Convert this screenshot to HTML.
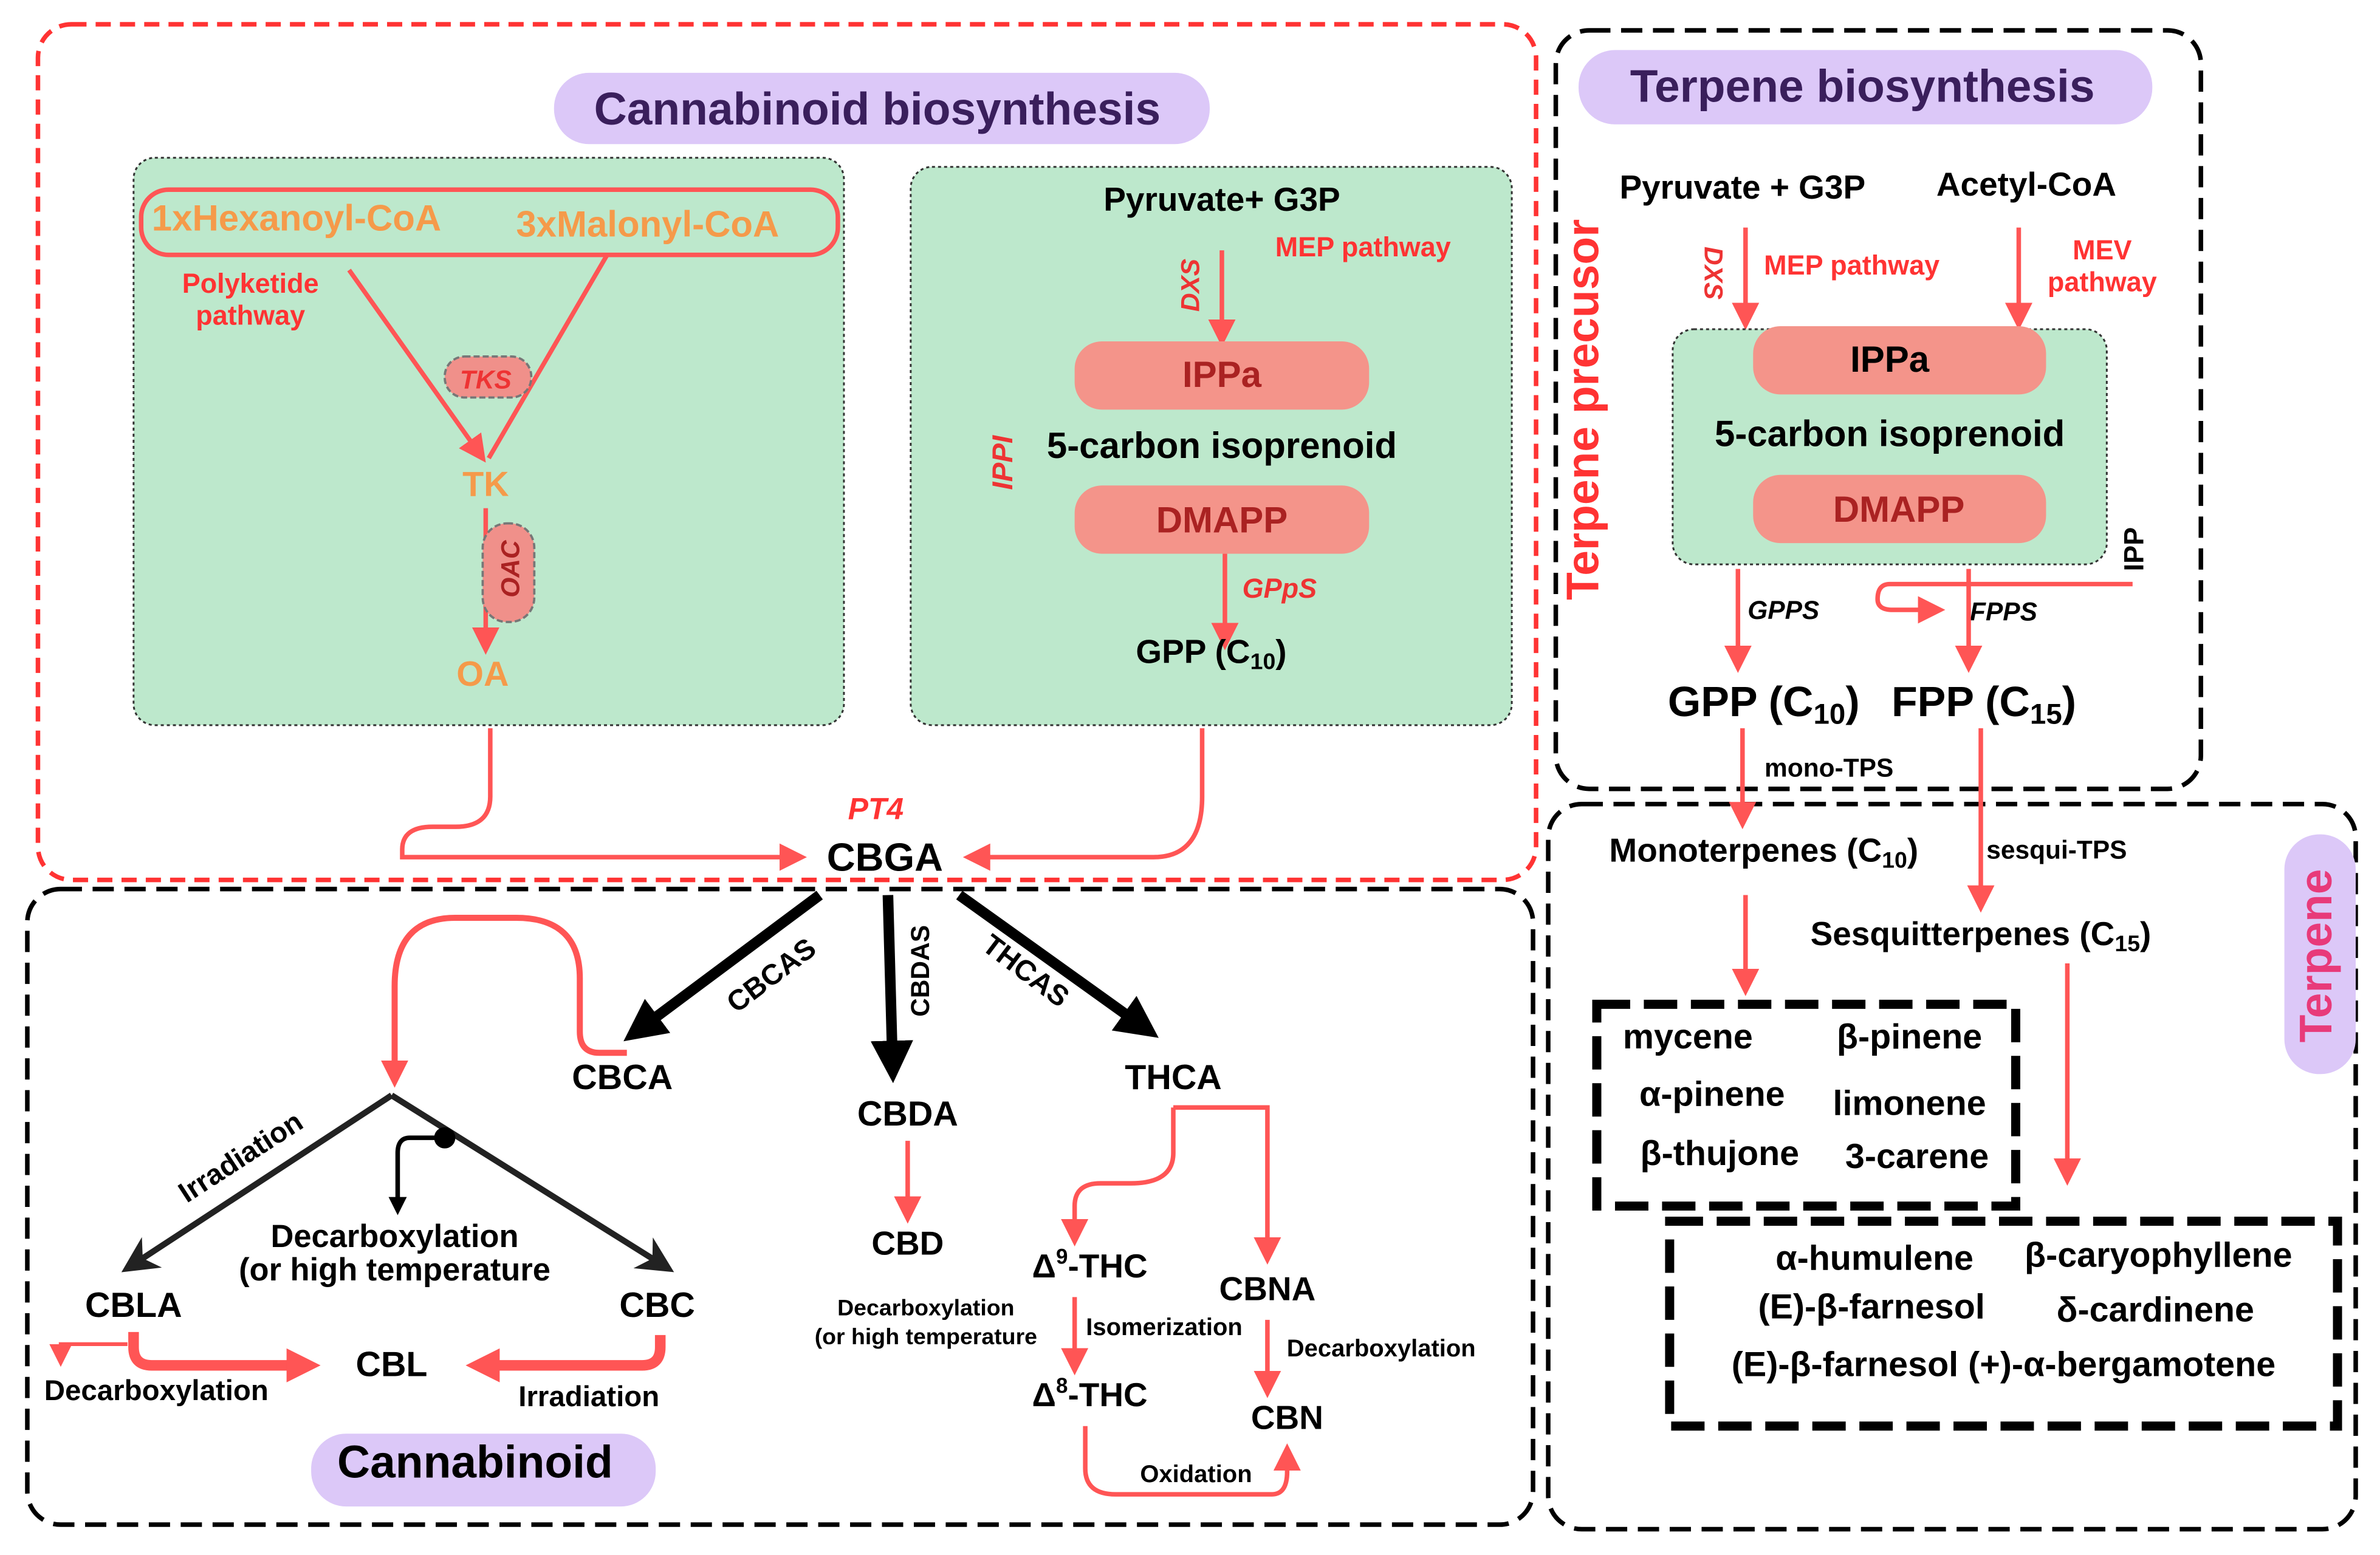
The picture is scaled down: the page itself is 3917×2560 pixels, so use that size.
<!DOCTYPE html>
<html><head><meta charset="utf-8"><style>
html,body{margin:0;padding:0;background:#fff;}
svg{display:block;}
text{font-family:"Liberation Sans Narrow","Liberation Sans",sans-serif;font-weight:bold;}
</style></head><body>
<svg width="3917" height="2560" viewBox="0 0 1568 1025" preserveAspectRatio="none" xmlns="http://www.w3.org/2000/svg">
<defs>
<marker id="ar" viewBox="0 0 10 10" refX="8" refY="5" markerWidth="6" markerHeight="6" orient="auto-start-reverse" markerUnits="strokeWidth"><path d="M0,0 L10,5 L0,10 z" fill="#f55"/></marker>
<marker id="ab" viewBox="0 0 10 10" refX="8" refY="5" markerWidth="6" markerHeight="6" orient="auto" markerUnits="strokeWidth"><path d="M0,0 L10,5 L0,10 L3,5 z" fill="#222"/></marker>
<marker id="abt" viewBox="0 0 10 10" refX="5" refY="5" markerWidth="4" markerHeight="4" orient="auto" markerUnits="strokeWidth"><path d="M0,0 L10,5 L0,10 z" fill="#000"/></marker>
<marker id="arl" viewBox="0 0 10 10" refX="5" refY="5" markerWidth="4.5" markerHeight="4.5" orient="auto" markerUnits="strokeWidth"><path d="M0,0 L10,5 L0,10 z" fill="#f55"/></marker>
<marker id="arb" viewBox="0 0 10 10" refX="5" refY="5" markerWidth="3.2" markerHeight="3.2" orient="auto" markerUnits="strokeWidth"><path d="M0,0 L10,5 L0,10 z" fill="#f55"/></marker>
</defs>
<!-- boxes -->
<rect x="25" y="16" width="987" height="564" rx="22" fill="none" stroke="#f33" stroke-width="3" stroke-dasharray="10,6"/>
<rect x="18" y="586" width="992" height="419" rx="22" fill="none" stroke="#000" stroke-width="3" stroke-dasharray="14,7"/>
<rect x="1025" y="20" width="425" height="500" rx="22" fill="none" stroke="#000" stroke-width="3" stroke-dasharray="14,7"/>
<rect x="1020" y="530" width="532" height="478" rx="22" fill="none" stroke="#000" stroke-width="3" stroke-dasharray="14,7"/>

<rect x="365" y="48" width="432" height="47" rx="23" fill="#dcc8f8"/>
<text x="578" y="82" font-size="30" fill="#3a1f5c" text-anchor="middle">Cannabinoid biosynthesis</text>

<rect x="88" y="104" width="468" height="374" rx="14" fill="#bde8cc" stroke="#333" stroke-width="1.2" stroke-dasharray="2,2"/>
<rect x="600" y="110" width="396" height="368" rx="14" fill="#bde8cc" stroke="#333" stroke-width="1.2" stroke-dasharray="2,2"/>

<rect x="93" y="125" width="459" height="43" rx="18" fill="none" stroke="#f55" stroke-width="3"/>
<text x="100" y="152" font-size="24" fill="#f59a4a">1xHexanoyl-CoA</text>
<text x="340" y="156" font-size="24" fill="#f59a4a">3xMalonyl-CoA</text>
<text x="165" y="193" font-size="18" fill="#f33" text-anchor="middle">Polyketide</text>
<text x="165" y="214" font-size="18" fill="#f33" text-anchor="middle">pathway</text>
<line x1="230" y1="178" x2="318" y2="302" stroke="#f55" stroke-width="3" marker-end="url(#ar)"/>
<line x1="400" y1="168" x2="322" y2="302" stroke="#f55" stroke-width="3"/>
<rect x="293" y="235" width="57" height="27" rx="13" fill="#f0908a" stroke="#777" stroke-width="1.5" stroke-dasharray="4,2"/>
<text x="320" y="256" font-size="17" fill="#e33" font-style="italic" text-anchor="middle">TKS</text>
<text x="320" y="327" font-size="23" fill="#f59a4a" text-anchor="middle">TK</text>
<line x1="320" y1="335" x2="320" y2="428" stroke="#f55" stroke-width="3" marker-end="url(#ar)"/>
<rect x="318" y="345" width="34" height="65" rx="16" fill="#f0908a" stroke="#777" stroke-width="1.5" stroke-dasharray="4,2"/>
<text transform="translate(342,375) rotate(-90)" font-size="17" fill="#a22" font-style="italic" text-anchor="middle">OAC</text>
<text x="318" y="452" font-size="23" fill="#f59a4a" text-anchor="middle">OA</text>

<text x="805" y="139" font-size="22" fill="#000" text-anchor="middle">Pyruvate+ G3P</text>
<text x="898" y="169" font-size="18" fill="#f33" text-anchor="middle">MEP pathway</text>
<text transform="translate(790,188) rotate(-90)" font-size="17" fill="#e33" font-style="italic" text-anchor="middle">DXS</text>
<line x1="805" y1="165" x2="805" y2="225" stroke="#f55" stroke-width="3" marker-end="url(#ar)"/>
<rect x="708" y="225" width="194" height="45" rx="18" fill="#f4948a"/>
<text x="805" y="255" font-size="24" fill="#a22" text-anchor="middle">IPPa</text>
<text x="805" y="302" font-size="24" fill="#000" text-anchor="middle">5-carbon isoprenoid</text>
<rect x="708" y="320" width="194" height="45" rx="18" fill="#f4948a"/>
<text x="805" y="351" font-size="24" fill="#a22" text-anchor="middle">DMAPP</text>
<text transform="translate(667,305) rotate(-90)" font-size="19" fill="#e33" font-style="italic" text-anchor="middle">IPPI</text>
<line x1="807" y1="365" x2="807" y2="425" stroke="#f55" stroke-width="3" marker-end="url(#ar)"/>
<text x="843" y="394" font-size="18" fill="#e33" font-style="italic" text-anchor="middle">GPpS</text>
<text x="798" y="437" font-size="22" fill="#000" text-anchor="middle">GPP (C<tspan font-size="15" dy="4">10</tspan><tspan dy="-4">)</tspan></text>

<path d="M323,480 V525 Q323,545 300,545 H285 Q265,545 265,560 V565 H528" fill="none" stroke="#f55" stroke-width="3" marker-end="url(#ar)"/>
<path d="M792,480 V525 Q792,565 760,565 H638" fill="none" stroke="#f55" stroke-width="3" marker-end="url(#ar)"/>
<text x="577" y="540" font-size="20" fill="#f33" font-style="italic" text-anchor="middle">PT4</text>
<text x="583" y="574" font-size="26" fill="#000" text-anchor="middle">CBGA</text>

<!-- thick black arrows -->
<line x1="540" y1="590" x2="422" y2="678" stroke="#000" stroke-width="7" marker-end="url(#abt)"/>
<line x1="585" y1="590" x2="588" y2="700" stroke="#000" stroke-width="7" marker-end="url(#abt)"/>
<line x1="632" y1="590" x2="752" y2="676" stroke="#000" stroke-width="7" marker-end="url(#abt)"/>
<text transform="translate(512,648) rotate(-37)" font-size="19" fill="#000" text-anchor="middle">CBCAS</text>
<text transform="translate(612,640) rotate(-90)" font-size="17" fill="#000" text-anchor="middle">CBDAS</text>
<text transform="translate(672,645) rotate(37)" font-size="19" fill="#000" text-anchor="middle">THCAS</text>
<text x="410" y="718" font-size="23" fill="#000" text-anchor="middle">CBCA</text>
<text x="598" y="742" font-size="23" fill="#000" text-anchor="middle">CBDA</text>
<text x="773" y="718" font-size="23" fill="#000" text-anchor="middle">THCA</text>

<path d="M413,694 H395 Q382,694 382,680 V645 Q382,605 340,605 H300 Q260,605 260,650 V708" fill="none" stroke="#f55" stroke-width="4" marker-end="url(#arl)"/>
<path d="M258,722 L84,836" stroke="#222" stroke-width="4" fill="none" marker-end="url(#ab)"/>
<path d="M258,722 L440,836" stroke="#222" stroke-width="4" fill="none" marker-end="url(#ab)"/>
<text transform="translate(162,768) rotate(-33)" font-size="19" fill="#000" text-anchor="middle">Irradiation</text>
<circle cx="293" cy="750" r="7" fill="#000"/>
<path d="M290,750 H270 Q262,750 262,760 V795" fill="none" stroke="#000" stroke-width="3" marker-end="url(#abt)"/>
<text x="260" y="822" font-size="21" fill="#000" text-anchor="middle">Decarboxylation</text>
<text x="260" y="844" font-size="21" fill="#000" text-anchor="middle">(or high temperature</text>
<text x="88" y="868" font-size="23" fill="#000" text-anchor="middle">CBLA</text>
<text x="433" y="868" font-size="23" fill="#000" text-anchor="middle">CBC</text>
<text x="258" y="907" font-size="23" fill="#000" text-anchor="middle">CBL</text>
<path d="M88,878 V888 Q88,900 100,900 H200" fill="none" stroke="#f55" stroke-width="7" marker-end="url(#arb)"/>
<path d="M435,880 V888 Q435,900 423,900 H318" fill="none" stroke="#f55" stroke-width="7" marker-end="url(#arb)"/>
<path d="M84,886 H40 V898" fill="none" stroke="#f55" stroke-width="2.5" marker-end="url(#ar)"/>
<text x="103" y="923" font-size="19" fill="#000" text-anchor="middle">Decarboxylation</text>
<text x="388" y="927" font-size="19" fill="#000" text-anchor="middle">Irradiation</text>
<rect x="205" y="945" width="227" height="48" rx="23" fill="#dcc8f8"/>
<text x="313" y="974" font-size="30" fill="#000" text-anchor="middle">Cannabinoid</text>

<line x1="598" y1="752" x2="598" y2="803" stroke="#f55" stroke-width="3" marker-end="url(#ar)"/>
<text x="598" y="827" font-size="22" fill="#000" text-anchor="middle">CBD</text>
<text x="610" y="867" font-size="15" fill="#000" text-anchor="middle">Decarboxylation</text>
<text x="610" y="886" font-size="15" fill="#000" text-anchor="middle">(or high temperature</text>
<path d="M773,730 H835 V830" fill="none" stroke="#f55" stroke-width="3" marker-end="url(#ar)"/>
<path d="M773,730 V760 Q773,780 745,780 H725 Q708,780 708,795 V818" fill="none" stroke="#f55" stroke-width="3" marker-end="url(#ar)"/>
<text x="718" y="842" font-size="22" fill="#000" text-anchor="middle">Δ<tspan font-size="14" dy="-9">9</tspan><tspan dy="9">-THC</tspan></text>
<text x="835" y="857" font-size="22" fill="#000" text-anchor="middle">CBNA</text>
<text x="910" y="894" font-size="16" fill="#000" text-anchor="middle">Decarboxylation</text>
<text x="767" y="880" font-size="16" fill="#000" text-anchor="middle">Isomerization</text>
<line x1="708" y1="855" x2="708" y2="903" stroke="#f55" stroke-width="3" marker-end="url(#ar)"/>
<line x1="835" y1="870" x2="835" y2="918" stroke="#f55" stroke-width="3" marker-end="url(#ar)"/>
<text x="718" y="927" font-size="22" fill="#000" text-anchor="middle">Δ<tspan font-size="14" dy="-9">8</tspan><tspan dy="9">-THC</tspan></text>
<text x="848" y="942" font-size="22" fill="#000" text-anchor="middle">CBN</text>
<path d="M715,940 V968 Q715,985 735,985 H838 Q848,985 848,970 V955" fill="none" stroke="#f55" stroke-width="3" marker-end="url(#ar)"/>
<text x="788" y="977" font-size="16" fill="#000" text-anchor="middle">Oxidation</text>

<!-- Terpene biosynthesis -->
<rect x="1040" y="33" width="378" height="49" rx="24" fill="#dcc8f8"/>
<text x="1227" y="67" font-size="30" fill="#3a1f5c" text-anchor="middle">Terpene biosynthesis</text>
<text transform="translate(1053,270) rotate(-90)" font-size="30" fill="#f33" text-anchor="middle">Terpene precusor</text>
<text x="1148" y="131" font-size="22" fill="#000" text-anchor="middle">Pyruvate + G3P</text>
<text x="1335" y="129" font-size="22" fill="#000" text-anchor="middle">Acetyl-CoA</text>
<text transform="translate(1123,180) rotate(90)" font-size="17" fill="#e33" font-style="italic" text-anchor="middle">DXS</text>
<text x="1220" y="181" font-size="18" fill="#f33" text-anchor="middle">MEP pathway</text>
<text x="1385" y="171" font-size="18" fill="#f33" text-anchor="middle">MEV</text>
<text x="1385" y="192" font-size="18" fill="#f33" text-anchor="middle">pathway</text>
<line x1="1150" y1="150" x2="1150" y2="214" stroke="#f55" stroke-width="3" marker-end="url(#ar)"/>
<line x1="1330" y1="150" x2="1330" y2="214" stroke="#f55" stroke-width="3" marker-end="url(#ar)"/>
<rect x="1102" y="217" width="286" height="155" rx="14" fill="#bde8cc" stroke="#333" stroke-width="1.2" stroke-dasharray="2,2"/>
<rect x="1155" y="215" width="193" height="45" rx="18" fill="#f4948a"/>
<text x="1245" y="245" font-size="24" fill="#000" text-anchor="middle">IPPa</text>
<text x="1245" y="294" font-size="24" fill="#000" text-anchor="middle">5-carbon isoprenoid</text>
<rect x="1155" y="313" width="193" height="45" rx="18" fill="#f4948a"/>
<text x="1251" y="344" font-size="24" fill="#a22" text-anchor="middle">DMAPP</text>
<text transform="translate(1412,362) rotate(-90)" font-size="18" fill="#000" text-anchor="middle">IPP</text>
<path d="M1405,385 H1245 Q1237,385 1237,395 Q1237,402 1247,402 H1278" fill="none" stroke="#f55" stroke-width="3" marker-end="url(#ar)"/>
<text x="1320" y="409" font-size="17" fill="#000" font-style="italic" text-anchor="middle">FPPS</text>
<text x="1175" y="408" font-size="17" fill="#000" font-style="italic" text-anchor="middle">GPPS</text>
<line x1="1145" y1="375" x2="1145" y2="440" stroke="#f55" stroke-width="3" marker-end="url(#ar)"/>
<line x1="1297" y1="375" x2="1297" y2="440" stroke="#f55" stroke-width="3" marker-end="url(#ar)"/>
<text x="1162" y="472" font-size="28" fill="#000" text-anchor="middle">GPP (C<tspan font-size="19" dy="5">10</tspan><tspan dy="-5">)</tspan></text>
<text x="1307" y="472" font-size="28" fill="#000" text-anchor="middle">FPP (C<tspan font-size="19" dy="5">15</tspan><tspan dy="-5">)</tspan></text>
<text x="1205" y="512" font-size="17" fill="#000" text-anchor="middle">mono-TPS</text>
<line x1="1148" y1="480" x2="1148" y2="543" stroke="#f55" stroke-width="3" marker-end="url(#ar)"/>
<text x="1355" y="566" font-size="17" fill="#000" text-anchor="middle">sesqui-TPS</text>
<line x1="1305" y1="480" x2="1305" y2="598" stroke="#f55" stroke-width="3" marker-end="url(#ar)"/>
<text x="1162" y="568" font-size="22" fill="#000" text-anchor="middle">Monoterpenes (C<tspan font-size="15" dy="4">10</tspan><tspan dy="-4">)</tspan></text>
<text x="1305" y="623" font-size="22" fill="#000" text-anchor="middle">Sesquitterpenes (C<tspan font-size="15" dy="4">15</tspan><tspan dy="-4">)</tspan></text>
<rect x="1505" y="550" width="47" height="158" rx="23" fill="#dcc8f8"/>
<text transform="translate(1536,630) rotate(-90)" font-size="30" fill="#e83a7a" text-anchor="middle">Terpene</text>
<line x1="1150" y1="590" x2="1150" y2="653" stroke="#f55" stroke-width="3" marker-end="url(#ar)"/>
<rect x="1052" y="662" width="276" height="133" fill="none" stroke="#000" stroke-width="6" stroke-dasharray="22,9"/>
<text x="1112" y="691" font-size="23" fill="#000" text-anchor="middle">mycene</text>
<text x="1258" y="691" font-size="23" fill="#000" text-anchor="middle">β-pinene</text>
<text x="1128" y="729" font-size="23" fill="#000" text-anchor="middle">α-pinene</text>
<text x="1258" y="735" font-size="23" fill="#000" text-anchor="middle">limonene</text>
<text x="1133" y="768" font-size="23" fill="#000" text-anchor="middle">β-thujone</text>
<text x="1263" y="770" font-size="23" fill="#000" text-anchor="middle">3-carene</text>
<line x1="1362" y1="635" x2="1362" y2="778" stroke="#f55" stroke-width="3" marker-end="url(#ar)"/>
<rect x="1100" y="805" width="440" height="135" fill="none" stroke="#000" stroke-width="6" stroke-dasharray="22,9"/>
<text x="1235" y="837" font-size="23" fill="#000" text-anchor="middle">α-humulene</text>
<text x="1422" y="835" font-size="23" fill="#000" text-anchor="middle">β-caryophyllene</text>
<text x="1233" y="869" font-size="23" fill="#000" text-anchor="middle">(E)-β-farnesol</text>
<text x="1420" y="871" font-size="23" fill="#000" text-anchor="middle">δ-cardinene</text>
<text x="1320" y="907" font-size="23" fill="#000" text-anchor="middle">(E)-β-farnesol (+)-α-bergamotene</text>
</svg>
</body></html>
